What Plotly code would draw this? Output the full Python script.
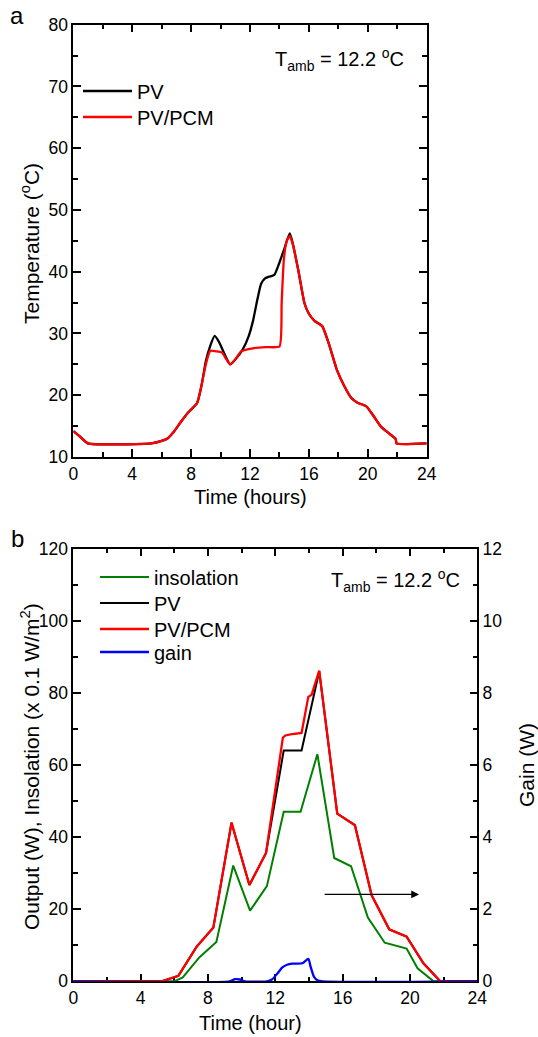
import plotly.graph_objects as go

# ---------------- data: panel a (temperature, deg C) ----------------
t_pcm = [0, 0.5, 1.0, 5.3, 6.0, 6.4, 6.8, 7.25, 7.8, 8.4, 8.7, 9.0, 9.3, 9.7, 10.1, 10.4, 10.65,
         11.0, 11.4, 12.2, 13.1, 14.0, 14.15, 14.3, 14.5, 14.7, 14.9, 15.3, 15.7, 16.0, 16.4,
         16.9, 17.4, 17.9, 18.4, 18.9, 19.3, 19.9, 20.4, 20.9, 21.4, 21.9, 21.95, 24]
temp_pcm = [14.2, 13.2, 12.2, 12.2, 12.6, 13.0, 14.0, 15.5, 17.2, 18.7, 21.5, 25.0, 27.2, 27.1, 26.9,
            25.8, 25.0, 25.8, 27.1, 27.6, 27.8, 27.9, 35.0, 42.0, 45.0, 45.8, 44.5, 40.0, 34.9,
            33.2, 32.0, 31.2, 28.0, 24.1, 21.5, 19.5, 18.8, 18.2, 16.6, 14.9, 13.9, 12.9, 12.2, 12.2]

t_pv = [0, 0.5, 1.0, 5.3, 6.0, 6.4, 6.8, 7.25, 7.8, 8.4, 8.7, 9.0, 9.3, 9.6, 9.9, 10.3, 10.65,
        11.0, 11.5, 11.9, 12.2, 12.5, 12.75, 13.0, 13.3, 13.65, 14.0, 14.3, 14.7, 14.9, 15.3,
        15.7, 16.0, 16.4, 16.9, 17.4, 17.9, 18.4, 18.9, 19.3, 19.9, 20.4, 20.9, 21.4, 21.9,
        21.95, 24]
temp_pv = [14.2, 13.2, 12.2, 12.2, 12.6, 13.0, 14.0, 15.5, 17.2, 18.7, 21.5, 25.5, 28.0, 29.6, 28.6,
           26.5, 25.0, 25.8, 27.4, 29.5, 32.0, 35.5, 38.0, 38.9, 39.2, 39.5, 41.5, 43.5, 46.2,
           44.6, 40.0, 34.9, 33.2, 32.0, 31.2, 28.0, 24.1, 21.5, 19.5, 18.8, 18.2, 16.6, 14.9,
           13.9, 12.9, 12.2, 12.2]

# ---------------- data: panel b ----------------
t_ins = [0, 6.0, 6.5, 7.5, 8.5, 9.5, 10.5, 11.5, 12.5, 13.5, 14.5, 15.5, 16.5, 17.5, 18.5,
         19.8, 20.45, 21.4, 24]
insolation = [0, 0, 1.1, 6.7, 10.9, 32.1, 19.6, 26.4, 47.0, 47.0, 63.0, 34.2, 31.9, 17.7,
              10.7, 9.1, 3.6, 0, 0]

t_out_pcm = [0, 5.25, 6.24, 7.33, 8.32, 9.4, 10.46, 11.45, 12.45, 12.6, 12.9, 13.56, 13.96,
             14.16, 14.61, 15.68, 16.73, 17.72, 18.77, 19.8, 20.8, 21.8, 24]
out_pcm = [0, 0, 1.5, 9.6, 14.9, 44.0, 26.7, 35.6, 67.6, 68.2, 68.5, 68.9, 78.9, 79.5, 86.2,
           46.5, 43.3, 23.9, 14.4, 12.4, 5.0, 0, 0]

t_out_pv = [0, 5.25, 6.24, 7.33, 8.32, 9.4, 10.46, 11.45, 12.5, 13.56, 14.61, 15.68, 16.73,
            17.72, 18.77, 19.8, 20.8, 21.8, 24]
out_pv = [0, 0, 1.5, 9.6, 14.9, 44.0, 26.7, 35.6, 64.0, 64.0, 86.0, 46.5, 43.3, 23.9, 14.4,
          12.4, 5.0, 0, 0]

t_gain = [0, 9.3, 9.6, 9.9, 10.2, 11.5, 11.8, 12.1, 12.4, 12.7, 13.0, 13.6, 13.96, 14.1,
          14.3, 14.5, 14.8, 24]
gain = [0, 0, 0.06, 0.05, 0, 0, 0.05, 0.2, 0.38, 0.46, 0.49, 0.5, 0.62, 0.4, 0.12, 0.03, 0, 0]

FONT = "Liberation Sans, Arial, Helvetica, sans-serif"
W, H = 538, 1037

def px(x):
    return x / W

def py(y):
    return 1 - y / H

fig = go.Figure()

# panel a
fig.add_trace(go.Scatter(x=t_pv, y=temp_pv, mode="lines", name="PV",
                         line=dict(color="black", width=2.3, shape="spline", smoothing=0.5),
                         xaxis="x", yaxis="y", legend="legend"))
fig.add_trace(go.Scatter(x=t_pcm, y=temp_pcm, mode="lines", name="PV/PCM",
                         line=dict(color="#ff0000", width=2.3, shape="spline", smoothing=0.5),
                         xaxis="x", yaxis="y", legend="legend2"))

# panel b
fig.add_trace(go.Scatter(x=t_ins, y=insolation, mode="lines", name="insolation",
                         line=dict(color="#008000", width=2),
                         xaxis="x2", yaxis="y2", legend="legend3"))
fig.add_trace(go.Scatter(x=t_out_pv, y=out_pv, mode="lines", name="PV",
                         line=dict(color="black", width=2),
                         xaxis="x2", yaxis="y2", legend="legend4"))
fig.add_trace(go.Scatter(x=t_out_pcm, y=out_pcm, mode="lines", name="PV/PCM",
                         line=dict(color="#ff0000", width=2.3),
                         xaxis="x2", yaxis="y2", legend="legend5"))
fig.add_trace(go.Scatter(x=t_gain, y=gain, mode="lines", name="gain",
                         line=dict(color="#0000ff", width=2.3, shape="spline", smoothing=0.6),
                         xaxis="x2", yaxis="y3", legend="legend6"))

tickfont = dict(family=FONT, size=17.5, color="black")
common = dict(showline=True, linecolor="black", linewidth=1.5, ticks="inside",
              tickcolor="black", tickwidth=1.5, ticklen=8, showgrid=False, zeroline=False,
              tickfont=tickfont, layer="below traces", automargin=False)
minor_style = dict(ticks="inside", ticklen=5, tickcolor="black", tickwidth=1.5)

LEG_FONT = dict(family=FONT, size=20, color="black")

def leg(xp, yp):
    return dict(x=px(xp), y=py(yp), xanchor="left", yanchor="middle",
                bgcolor="rgba(0,0,0,0)", borderwidth=0, font=LEG_FONT, itemwidth=49)

fig.update_layout(
    width=W, height=H, margin=dict(l=0, r=0, t=0, b=0, autoexpand=False),
    paper_bgcolor="white", plot_bgcolor="white",
    font=dict(family=FONT, color="black"),
    xaxis=dict(domain=[px(73.3), px(426.7)], range=[0, 24], dtick=4, anchor="y",
               mirror="ticks", minor=dict(dtick=2, **minor_style), **common),
    yaxis=dict(domain=[py(457), py(24.7)], range=[10, 80], dtick=10, anchor="x",
               mirror="ticks", minor=dict(dtick=5, **minor_style), **common),
    xaxis2=dict(domain=[px(73.3), px(477.3)], range=[0, 24], dtick=4, anchor="y2",
                mirror="ticks", minor=dict(dtick=2, **minor_style), **common),
    yaxis2=dict(domain=[py(981.3), py(548.7)], range=[0, 120], dtick=20, anchor="x2",
                minor=dict(dtick=10, **minor_style), **common),
    yaxis3=dict(domain=[py(981.3), py(548.7)], range=[0, 12], dtick=2, anchor="x2",
                overlaying="y2", side="right",
                minor=dict(dtick=1, **minor_style), **common),
    legend=leg(78, 91),
    legend2=leg(78, 117),
    legend3=leg(95, 577),
    legend4=leg(95, 603),
    legend5=leg(95, 629),
    legend6=leg(95, 652),
    showlegend=True,
)

ann_font = dict(family=FONT, size=20, color="black")
ytitle_font = dict(family=FONT, size=21, color="black")
annotations = [
    dict(text="a", x=px(17), y=py(16), xref="paper", yref="paper", showarrow=False,
         xanchor="center", yanchor="middle", font=dict(family=FONT, size=24, color="black")),
    dict(text="b", x=px(17), y=py(538), xref="paper", yref="paper", showarrow=False,
         xanchor="center", yanchor="middle", font=dict(family=FONT, size=24, color="black")),
    dict(text="T<sub>amb</sub> = 12.2 <sup>o</sup>C", x=px(406), y=py(60), xref="paper",
         yref="paper", xanchor="right", yanchor="middle", showarrow=False, font=ann_font),
    dict(text="T<sub>amb</sub> = 12.2 <sup>o</sup>C", x=px(462), y=py(580), xref="paper",
         yref="paper", xanchor="right", yanchor="middle", showarrow=False, font=ann_font),
    dict(text="Temperature (<sup>o</sup>C)", x=px(30), y=py(244), xref="paper", yref="paper",
         xanchor="center", yanchor="middle", textangle=-90, showarrow=False, font=ytitle_font),
    dict(text="Time (hours)", x=px(250), y=py(497), xref="paper", yref="paper",
         xanchor="center", yanchor="middle", showarrow=False, font=ann_font),
    dict(text="Output (W), Insolation (x 0.1 W/m<sup>2</sup>)", x=px(30), y=py(767),
         xref="paper", yref="paper", xanchor="center", yanchor="middle", textangle=-90,
         showarrow=False, font=ytitle_font),
    dict(text="Gain (W)", x=px(526), y=py(765), xref="paper", yref="paper",
         xanchor="center", yanchor="middle", textangle=-90, showarrow=False, font=ytitle_font),
    dict(text="Time (hour)", x=px(250), y=py(1023), xref="paper", yref="paper",
         xanchor="center", yanchor="middle", showarrow=False, font=ann_font),
    dict(text="", x=20.54, y=2.41, xref="x2", yref="y3", ax=14.84, ay=2.41,
         axref="x2", ayref="y3", showarrow=True, arrowhead=2, arrowsize=1.3,
         arrowwidth=1.2, arrowcolor="black"),
]
fig.update_layout(annotations=annotations)

fig.write_html("out.html", config={"displayModeBar": False})

with open("out.html", "r", encoding="utf-8") as f:
    html = f.read()
html = html.replace("<head>", "<head><style>html,body{margin:0;padding:0;}</style>", 1)
with open("out.html", "w", encoding="utf-8") as f:
    f.write(html)
